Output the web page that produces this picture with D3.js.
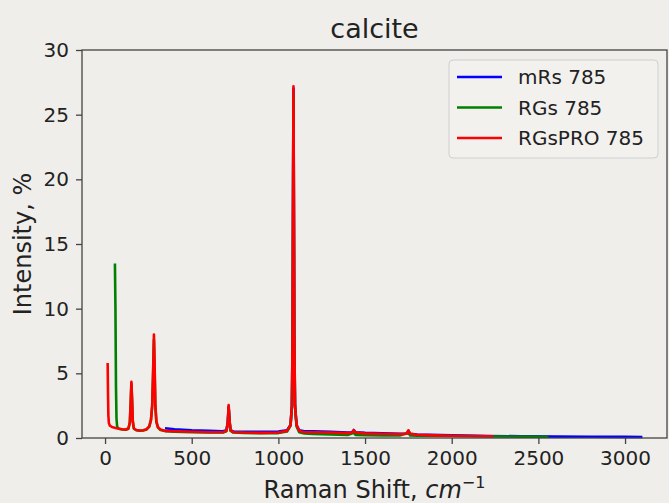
<!DOCTYPE html>
<html>
<head>
<meta charset="utf-8">
<script src="https://cdn.jsdelivr.net/npm/d3@7"></script>
<style>
  body { margin: 0; background: #efeeea; }
  svg { display: block; font-family: "DejaVu Sans", sans-serif; }
</style>
</head>
<body>
<div id="chart"></div>
<script>
// Raman spectra of calcite, [shift cm-1, intensity %]
const mrs785 = [
  [346,0.75],[400,0.68],[500,0.6],[600,0.55],[680,0.52],[700,0.6],[708,1.2],[713,2.4],[718,1.3],[724,0.6],
  [740,0.5],[800,0.48],[900,0.47],[1000,0.5],[1050,0.6],[1070,1.0],[1078,2.5],[1082,8],[1085,20],[1087,27],
  [1089,20],[1092,8],[1096,2.5],[1105,1.0],[1120,0.6],[1150,0.52],[1200,0.52],[1250,0.5],[1300,0.47],[1400,0.42],
  [1425,0.45],[1435,0.62],[1445,0.44],[1500,0.4],[1600,0.36],[1700,0.32],[1740,0.35],[1750,0.55],[1760,0.32],
  [1800,0.26],[2000,0.2],[2200,0.16],[2400,0.13],[2600,0.11],[2800,0.1],[3000,0.09],[3100,0.08]
];
const rgs785 = [
  [57,13.5],[60,10],[63,4],[66,1.5],[70,0.85],[80,0.72],[100,0.66],[120,0.64],[135,0.72],[143,1.2],
  [148,2.7],[152,4.2],[156,2.9],[160,1.3],[166,0.72],[180,0.6],[200,0.56],[220,0.58],[240,0.66],[255,0.88],
  [265,1.4],[272,2.5],[277,4.8],[282,7.6],[286,5.3],[290,2.5],[296,1.25],[305,0.8],[320,0.62],[350,0.52],
  [400,0.49],[500,0.45],[600,0.42],[680,0.42],[700,0.52],[708,1.1],[713,2.4],[718,1.3],[724,0.55],[740,0.42],
  [800,0.39],[900,0.37],[1000,0.38],[1050,0.5],[1070,0.95],[1078,2.4],[1082,7.5],[1085,19],[1087,26.5],
  [1089,19],[1092,7.5],[1096,2.4],[1105,0.9],[1120,0.45],[1150,0.35],[1200,0.32],[1300,0.28],[1400,0.24],
  [1435,0.4],[1445,0.24],[1500,0.22],[1600,0.2],[1700,0.2],[1750,0.4],[1760,0.2],[1800,0.18],[2000,0.15],
  [2200,0.13],[2400,0.11],[2558,0.1]
];
const rgspro785 = [
  [15,5.8],[17,3.5],[19,1.8],[22,1.15],[28,0.95],[40,0.85],[60,0.78],[80,0.72],[100,0.68],[120,0.66],
  [135,0.75],[143,1.2],[148,2.8],[152,4.35],[156,3.0],[160,1.3],[166,0.75],[180,0.62],[200,0.58],[220,0.6],
  [240,0.68],[255,0.9],[265,1.4],[272,2.5],[277,5.0],[282,8.0],[286,5.5],[290,2.6],[296,1.3],[305,0.85],
  [320,0.65],[350,0.55],[400,0.52],[500,0.48],[600,0.45],[680,0.45],[700,0.55],[708,1.2],[713,2.55],[718,1.4],
  [724,0.6],[740,0.45],[800,0.42],[900,0.4],[1000,0.42],[1050,0.55],[1070,1.0],[1078,2.5],[1082,8],[1085,20],
  [1087,27.2],[1089,20],[1092,8],[1096,2.5],[1105,1.0],[1120,0.55],[1150,0.45],[1200,0.45],[1300,0.42],
  [1400,0.38],[1425,0.42],[1435,0.6],[1445,0.42],[1500,0.36],[1600,0.33],[1700,0.3],[1740,0.33],[1750,0.6],
  [1760,0.33],[1800,0.25],[1900,0.2],[2000,0.17],[2100,0.15],[2240,0.13]
];
const seriesNames = ["mRs 785", "RGs 785", "RGsPRO 785"];
const seriesColors = ["#0000ff", "#008000", "#ff0000"];
const xTicks = [0, 500, 1000, 1500, 2000, 2500, 3000];
const yTicks = [0, 5, 10, 15, 20, 25, 30];

const width = 669, height = 503;
const margin = {top: 50, right: 2, bottom: 65, left: 82};

const svg = d3.select("#chart").append("svg")
  .attr("width", width)
  .attr("height", height);
svg.append("rect").attr("width", width).attr("height", height).attr("fill", "#efeeea");

const x = d3.scaleLinear().domain([-133, 3242]).range([margin.left, width - margin.right]);
const y = d3.scaleLinear().domain([0, 30]).range([height - margin.bottom, margin.top]);

// axes
const xAxis = svg.append("g")
  .attr("transform", `translate(0,${height - margin.bottom})`)
  .call(d3.axisBottom(x).tickValues(xTicks).tickFormat(d3.format("d"))
    .tickSize(6).tickPadding(7).tickSizeOuter(0));
const yAxis = svg.append("g")
  .attr("transform", `translate(${margin.left},0)`)
  .call(d3.axisLeft(y).tickValues(yTicks).tickFormat(d3.format("d"))
    .tickSize(6).tickPadding(7).tickSizeOuter(0));
[xAxis, yAxis].forEach(g => {
  g.select(".domain").remove();
  g.selectAll(".tick line").attr("stroke", "#444").attr("stroke-width", 1.3);
  g.selectAll(".tick text").attr("fill", "#222").style("font-size", "20px")
    .style("font-family", "DejaVu Sans, sans-serif");
});

// lines
const line = d3.line().x(d => x(d[0])).y(d => y(d[1]));
[mrs785, rgs785, rgspro785].forEach((s, i) => {
  svg.append("path")
    .datum(s)
    .attr("fill", "none")
    .attr("stroke", seriesColors[i])
    .attr("stroke-width", 2.6)
    .attr("stroke-linejoin", "round")
    .attr("d", line);
});

// frame
svg.append("rect")
  .attr("x", margin.left).attr("y", margin.top)
  .attr("width", width - margin.right - margin.left)
  .attr("height", height - margin.bottom - margin.top)
  .attr("fill", "none").attr("stroke", "#444").attr("stroke-width", 1.3);

// title & labels
svg.append("text")
  .attr("x", (margin.left + width - margin.right) / 2).attr("y", 38)
  .attr("text-anchor", "middle").attr("fill", "#222")
  .style("font-size", "27px").text("calcite");

const xl = svg.append("text")
  .attr("x", (margin.left + width - margin.right) / 2).attr("y", 498)
  .attr("text-anchor", "middle").attr("fill", "#222")
  .style("font-size", "24px");
xl.append("tspan").text("Raman Shift, ");
xl.append("tspan").style("font-style", "italic").text("cm");
xl.append("tspan").attr("dy", -10).style("font-size", "16px").text("\u22121");

svg.append("text")
  .attr("transform", `translate(31,${(margin.top + height - margin.bottom) / 2}) rotate(-90)`)
  .attr("text-anchor", "middle").attr("fill", "#222")
  .style("font-size", "24px").text("Intensity, %");

// legend
const lg = svg.append("g");
lg.append("rect")
  .attr("x", 449).attr("y", 60).attr("width", 209).attr("height", 98).attr("rx", 4)
  .attr("fill", "#f2f1ee").attr("stroke", "#cfcfcf").attr("stroke-width", 1);
seriesNames.forEach((n, i) => {
  const ly = 77 + i * 30.5;
  lg.append("line").attr("x1", 457).attr("x2", 502).attr("y1", ly).attr("y2", ly)
    .attr("stroke", seriesColors[i]).attr("stroke-width", 2.6);
  lg.append("text").attr("x", 518).attr("y", ly + 7).attr("fill", "#222")
    .style("font-size", "20px").text(n);
});
</script>
</body>
</html>
